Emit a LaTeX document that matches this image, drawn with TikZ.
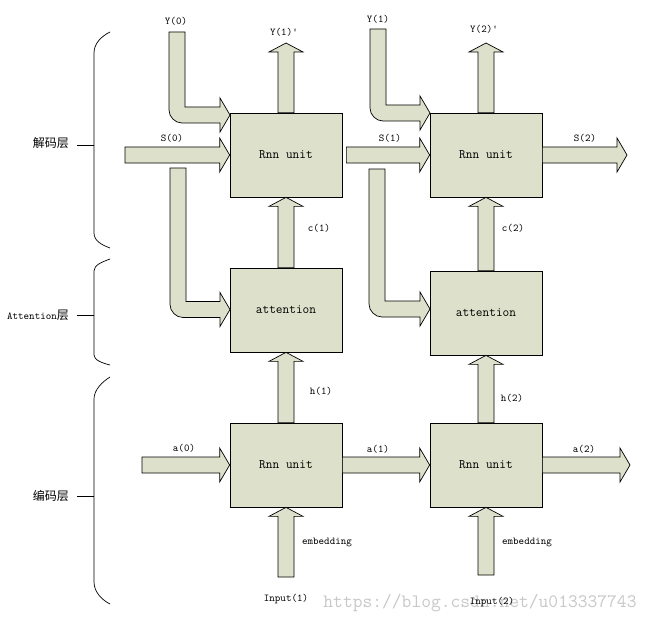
\documentclass[tikz,border=0pt]{standalone}
\usepackage{fontspec}
\newfontfamily\cjk{Noto Sans CJK SC}
\usetikzlibrary{calc}
\definecolor{boxfill}{RGB}{221,225,203}
\definecolor{wmark}{RGB}{200,200,200}
\tikzset{
  blk/.style={draw=black, fill=boxfill, line width=0.7pt, line join=miter},
  unit/.style={draw=black, fill=boxfill, line width=0.7pt, minimum width=112pt, minimum height=84pt, inner sep=0pt, font=\fontsize{13}{13}\selectfont\ttfamily},
  lbl/.style={inner sep=0pt, font=\fontsize{10.5}{10.5}\selectfont\ttfamily},
  brace/.style={draw=black, line width=0.7pt},
  side/.style={inner sep=0pt, font=\fontsize{12}{12}\selectfont\cjk}
}
\newcommand{\upArrow}[2]{\draw[blk] let \p1=(#1), \p2=(#2) in ({\x1-8pt},\y1) -- ({\x1-8pt},{\y2-9pt}) -- ({\x1-17pt},{\y2-9pt}) -- (\x1,\y2) -- ({\x1+17pt},{\y2-9pt}) -- ({\x1+8pt},{\y2-9pt}) -- ({\x1+8pt},\y1) -- cycle;}
\newcommand{\rArrow}[2]{\draw[blk] let \p1=(#1), \p2=(#2) in (\x1,{\y1+8pt}) -- ({\x2-10pt},{\y1+8pt}) -- ({\x2-10pt},{\y1+17pt}) -- (\x2,\y1) -- ({\x2-10pt},{\y1-17pt}) -- ({\x2-10pt},{\y1-8pt}) -- (\x1,{\y1-8pt}) -- cycle;}
\newcommand{\bentArrow}[2]{\draw[blk] let \p1=(#1), \p2=(#2) in ({\x1-8pt},\y1) -- ({\x1+8pt},\y1) -- ({\x1+8pt},{\y2+8pt}) -- ({\x2-10pt},{\y2+8pt}) -- ({\x2-10pt},{\y2+17pt}) -- (\x2,\y2) -- ({\x2-10pt},{\y2-17pt}) -- ({\x2-10pt},{\y2-8pt}) -- ({\x1+5pt},{\y2-8pt}) .. controls ({\x1-2pt},{\y2-8pt}) and ({\x1-8pt},{\y2-2pt}) .. ({\x1-8pt},{\y2+5pt}) -- cycle;}
\begin{document}
\begin{tikzpicture}[x=1pt, y=-1pt]
\useasboundingbox[fill=white] (0,0) rectangle (653,623);
% boxes
\node[unit] (d1) at (286,155) {Rnn unit};
\node[unit] (d2) at (486,155) {Rnn unit};
\node[unit] (t1) at (286,310) {attention};
\node[unit] (t2) at (486,313) {attention};
\node[unit] (e1) at (286,465) {Rnn unit};
\node[unit] (e2) at (486,465) {Rnn unit};
% coordinates
\coordinate (y1tip) at (286,43);
\coordinate (y2tip) at (486,43);
\coordinate (s0) at (125,155);
\coordinate (s2tip) at (627,155);
\coordinate (a0) at (142,465);
\coordinate (a2tip) at (630,465);
\coordinate (in1) at (286,577);
\coordinate (in2) at (486,575);
\coordinate (y0top) at (177,32);
\coordinate (y0tip) at (230,115);
\coordinate (s0top) at (178,168);
\coordinate (s0tip) at (230,309.5);
\coordinate (y1top) at (378,29);
\coordinate (y1tipb) at (430,113);
\coordinate (s1top) at (377,169);
\coordinate (s1tip) at (430,309);
% arrows
\upArrow{d1.north}{y1tip}
\upArrow{d2.north}{y2tip}
\upArrow{t1.north}{d1.south}
\upArrow{t2.north}{d2.south}
\upArrow{e1.north}{t1.south}
\upArrow{e2.north}{t2.south}
\upArrow{in1}{e1.south}
\upArrow{in2}{e2.south}
\rArrow{s0}{d1.west}
\rArrow{$(d1.east)+(4,0)$}{d2.west}
\rArrow{d2.east}{s2tip}
\rArrow{a0}{e1.west}
\rArrow{e1.east}{e2.west}
\rArrow{e2.east}{a2tip}
\bentArrow{y0top}{y0tip}
\bentArrow{s0top}{s0tip}
\bentArrow{y1top}{y1tipb}
\bentArrow{s1top}{s1tip}
% labels
\node[lbl] (ly0) at (176,21) {Y(0)};
\node[lbl] (ly1p) at (284,32) {Y(1)\textquotesingle};
\node[lbl] (ly1) at (378,19) {Y(1)};
\node[lbl] (ly2p) at (484,29) {Y(2)\textquotesingle};
\node[lbl] (ls0) at (172,138) {S(0)};
\node[lbl] (ls1) at (390,138) {S(1)};
\node[lbl] (ls2) at (585,138) {S(2)};
\node[lbl] (lc1) at (319,228) {c(1)};
\node[lbl] (lc2) at (513,228) {c(2)};
\node[lbl] (lh1) at (321,391) {h(1)};
\node[lbl] (lh2) at (512,398) {h(2)};
\node[lbl] (la0) at (184,448) {a(0)};
\node[lbl] (la1) at (378,449) {a(1)};
\node[lbl] (la2) at (584,449) {a(2)};
\node[lbl] (le1) at (327,542) {embedding};
\node[lbl] (le2) at (527,542) {embedding};
\node[lbl] (lin1) at (286,599) {Input(1)};
\node[font=\fontsize{19}{19}\selectfont\ttfamily, text=wmark, inner sep=0pt] (wm) at (480,603) {https://blog.csdn.net/u013337743};
\node[lbl] (lin2) at (492,602) {Input(2)};
% braces
\draw[brace] (110,32) .. controls (102,36) and (94,43) .. (94,53) -- (94,233) .. controls (94,241) and (102,245) .. (110,248);
\draw[brace] (110,259) .. controls (102,262) and (94,265) .. (94,271) -- (94,355) .. controls (94,360) and (102,363) .. (110,365);
\draw[brace] (110,377) .. controls (102,382) and (94,390) .. (94,399) -- (94,582) .. controls (94,592) and (102,600) .. (110,604);
\coordinate (b1) at (94,145);
\coordinate (b2) at (94,315);
\coordinate (b3) at (94,496);
\node[side, anchor=east] (sd) at (69,143) {解码层};
\node[side, anchor=east] (sa) at (69,315) {{\fontsize{10.5}{10.5}\selectfont\ttfamily Attention}层};
\node[side, anchor=east] (se) at (69,496) {编码层};
\draw[brace] (b1) -- (77,145);
\draw[brace] (b2) -- (77,315);
\draw[brace] (b3) -- (77,496);
\end{tikzpicture}
\end{document}
